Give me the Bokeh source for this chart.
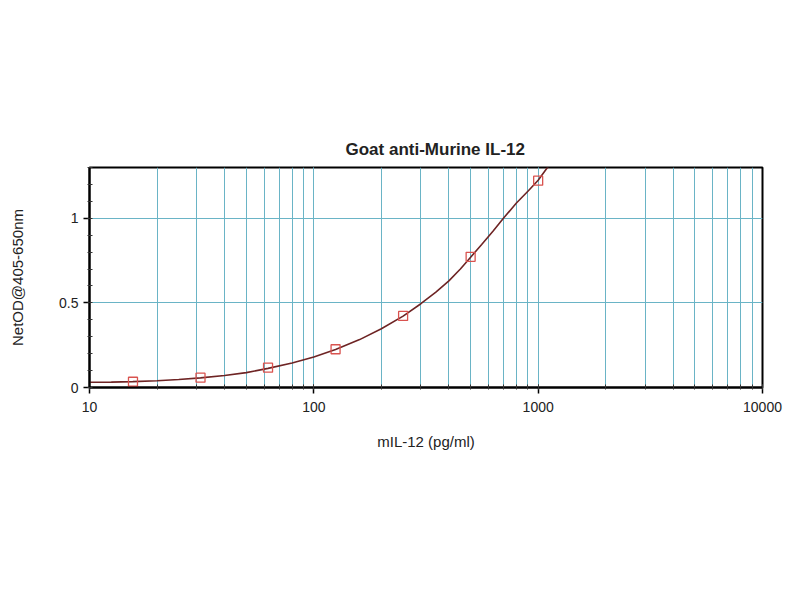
from bokeh.plotting import figure
from bokeh.models import LogTicker, SingleIntervalTicker, Range1d, Title
from bokeh.embed import file_html
from bokeh.resources import INLINE

# measured standards
conc = [15.625, 31.25, 62.5, 125, 250, 500, 1000]
od = [0.034, 0.058, 0.117, 0.226, 0.423, 0.772, 1.222]

# fitted curve
curve_x = [10, 12.5, 15.6, 20, 25, 31.25, 40, 50, 62.5, 80, 100, 125, 160, 200, 250,
           300, 350, 400, 450, 500, 560, 630, 700, 800, 900, 1000, 1100, 1200]
curve_y = [0.031, 0.032, 0.035, 0.040, 0.047, 0.057, 0.071, 0.088, 0.113, 0.145, 0.180, 0.225,
           0.283, 0.347, 0.422, 0.495, 0.563, 0.630, 0.700, 0.770, 0.845, 0.925, 1.000, 1.090,
           1.160, 1.225, 1.300, 1.360]

x_ticks = [10, 100, 1000, 10000]
y_ticks = [0, 0.5, 1]

p = figure(width=784, height=584, x_axis_type="log", output_backend="svg",
           toolbar_location=None,
           x_range=Range1d(10, 10000), y_range=Range1d(0, 1.3),
           min_border_left=89, min_border_right=22, min_border_top=167, min_border_bottom=197)

p.title = Title(text="Goat anti-Murine IL-12", align="left", text_font="Liberation Sans",
                text_font_size="17px", text_font_style="bold", text_color="#222222",
                standoff=18, offset=256)

p.xaxis.ticker = LogTicker(desired_num_ticks=4, num_minor_ticks=10)
p.xaxis.ticker.mantissas = [1]
p.yaxis.ticker = SingleIntervalTicker(interval=0.5, num_minor_ticks=5)

for ax in (p.xaxis[0], p.yaxis[0]):
    ax.axis_line_color = "black"
    ax.axis_line_width = 2
    ax.major_tick_line_color = "black"
    ax.major_tick_line_width = 1.5
    ax.major_tick_out = 6
    ax.major_tick_in = 0
    ax.minor_tick_line_color = "#333333"
    ax.minor_tick_out = 2
    ax.minor_tick_in = 3
    ax.major_label_text_font = "Liberation Sans"
    ax.major_label_text_font_size = "14px"
    ax.major_label_text_color = "#222222"
    ax.axis_label_text_font = "Liberation Sans"
    ax.axis_label_text_font_size = "15px"
    ax.axis_label_text_font_style = "normal"
    ax.axis_label_text_color = "#222222"

p.xaxis.major_label_overrides = {10: "10", 100: "100", 1000: "1000", 10000: "10000"}
p.xaxis.major_label_standoff = 8
p.xaxis.axis_label = "mIL-12 (pg/ml)"
p.xaxis.axis_label_standoff = 18
p.yaxis.axis_label = "NetOD@405-650nm"
p.yaxis.axis_label_standoff = 30
p.yaxis.major_label_standoff = 5

p.xgrid.grid_line_color = "#6ab4c6"
p.xgrid.grid_line_width = 1
p.xgrid.minor_grid_line_color = "#6ab4c6"
p.xgrid.minor_grid_line_width = 1
p.ygrid.grid_line_color = "#6ab4c6"
p.ygrid.grid_line_width = 1

p.outline_line_color = "black"
p.outline_line_width = 2
p.outline_line_alpha = 1

p.line(curve_x, curve_y, line_color="#6e2424", line_width=1.6)
p.scatter(conc, od, marker="square", size=9, fill_color=None, line_color="#d9534f", line_width=1.3)

open("out.html", "w").write(file_html(p, INLINE))
